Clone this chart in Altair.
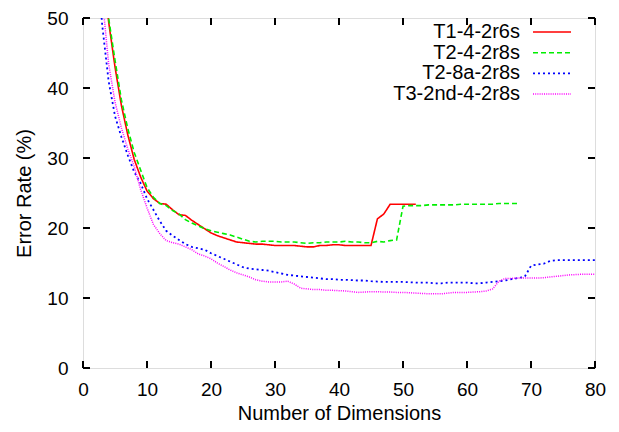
import altair as alt
import pandas as pd

# ---- data ----
x_red = list(range(3, 53))
y_red = [58, 49.5, 43.0, 37.5, 33.3, 29.8, 27.3, 25.3, 24.2, 23.5,
         23.4, 22.6, 21.9, 21.8, 21.1, 20.5, 19.9, 19.3, 18.9, 18.6,
         18.3, 18.0, 17.9, 17.8, 17.7, 17.7, 17.6, 17.5, 17.5, 17.5,
         17.5, 17.4, 17.3, 17.3, 17.5, 17.5, 17.6, 17.6, 17.5, 17.5,
         17.5, 17.5, 17.5, 21.3, 22.0, 23.4, 23.4, 23.4, 23.4, 23.4]

x_green = list(range(3, 69))
y_green = [59, 50.0, 44.0, 38.3, 34.2, 30.8, 28.3, 25.8, 24.4, 23.5,
           23.2, 22.5, 22.0, 21.2, 20.7, 20.3, 19.9, 19.6, 19.4, 19.2,
           19.0, 18.7, 18.4, 18.1, 18.0, 18.1, 18.1, 18.1, 18.0, 18.0,
           18.0, 17.9, 17.8, 17.9, 17.9, 18.0, 18.0, 18.0, 18.1, 18.0,
           18.0, 17.9, 17.9, 18.1, 18.0, 18.2, 18.3, 23.1, 23.2, 23.2,
           23.2, 23.3, 23.3, 23.3, 23.3, 23.3, 23.4, 23.4, 23.4, 23.4,
           23.4, 23.4, 23.5, 23.5, 23.5, 23.5]

x_blue = list(range(2, 81))
y_blue = [60, 49.0, 41.0, 36.0, 33.0, 30.4, 28.0, 26.4, 24.2, 22.6,
          21.0, 19.6, 18.9, 18.3, 17.7, 17.3, 17.1, 16.9, 16.4, 16.0,
          15.6, 15.2, 14.8, 14.4, 14.2, 14.1, 14.0, 13.9, 13.7, 13.5,
          13.3, 13.2, 13.1, 13.0, 12.9, 12.8, 12.7, 12.7, 12.6, 12.6,
          12.55, 12.5, 12.5, 12.4, 12.35, 12.3, 12.3, 12.3, 12.3, 12.25,
          12.2, 12.2, 12.2, 12.1, 12.1, 12.2, 12.2, 12.2, 12.2, 12.1,
          12.1, 12.2, 12.3, 12.4, 12.5, 12.7, 12.85, 13.0, 14.6, 14.8,
          14.9, 15.3, 15.4, 15.4, 15.4, 15.4, 15.4, 15.4, 15.4]

x_pink = list(range(2, 81))
y_pink = [62, 53.0, 43.5, 38.0, 34.3, 31.3, 28.8, 25.5, 22.9, 20.5,
          19.2, 18.2, 17.9, 17.7, 17.3, 16.9, 16.3, 16.0, 15.6, 15.0,
          14.5, 14.0, 13.6, 13.3, 13.0, 12.6, 12.4, 12.3, 12.3, 12.3,
          12.4, 12.0, 11.4, 11.3, 11.2, 11.2, 11.1, 11.1, 11.05, 11.0,
          10.9, 10.8, 10.85, 10.9, 10.9, 10.85, 10.85, 10.8, 10.8, 10.75,
          10.7, 10.65, 10.6, 10.6, 10.6, 10.7, 10.8, 10.8, 10.8, 10.85,
          10.9, 11.0, 11.3, 12.4, 12.8, 12.8, 12.85, 12.85, 12.85, 12.85,
          12.9, 13.0, 13.1, 13.2, 13.3, 13.35, 13.4, 13.4, 13.4]

series_names = ["T1-4-2r6s", "T2-4-2r8s", "T2-8a-2r8s", "T3-2nd-4-2r8s"]
series_x = [x_red, x_green, x_blue, x_pink]
series_y = [y_red, y_green, y_blue, y_pink]
series_colors = ["#ff0000", "#00ee00", "#0000ff", "#ff00ff"]
series_dash = [[1, 0], [5, 3], [2, 3], [1, 1.2]]
series_width = [1.6, 1.6, 1.8, 1.5]

x_ticks = [0, 10, 20, 30, 40, 50, 60, 70, 80]
y_ticks = [0, 10, 20, 30, 40, 50]

W, H = 512, 350
FONT = "Liberation Sans"
FS = 20
LFS = 19

xscale = alt.Scale(domain=[0, 80], nice=False, zero=False)
yscale = alt.Scale(domain=[0, 50], nice=False, zero=False)

xaxis = alt.Axis(values=x_ticks, format="d", title="Number of Dimensions",
                 domain=False, ticks=False, tickSize=0, grid=False,
                 labelPadding=12, labelFont=FONT, labelFontSize=LFS,
                 labelColor="black", titleFont=FONT, titleFontSize=FS,
                 titleFontWeight="normal", titleColor="black",
                 titleX=W / 2, titleY=45, titleBaseline="middle",
                 labelFlush=False, labelOverlap=False)
yaxis = alt.Axis(values=y_ticks, format="d", title="Error Rate (%)",
                 domain=False, ticks=False, tickSize=0, grid=False,
                 labelPadding=15, labelFont=FONT, labelFontSize=LFS,
                 labelColor="black", titleFont=FONT, titleFontSize=FS,
                 titleFontWeight="normal", titleColor="black",
                 titleX=-59, titleY=H / 2, titleAngle=-90,
                 titleAlign="center", titleBaseline="middle",
                 labelFlush=False, labelOverlap=False)

layers = []
for name, xs, ys, col, dash, sw in zip(series_names, series_x, series_y,
                                       series_colors, series_dash, series_width):
    df = pd.DataFrame({"x": xs, "y": ys})
    layers.append(
        alt.Chart(df).mark_line(color=col, strokeDash=dash, strokeWidth=sw,
                                clip=True)
        .encode(x=alt.X("x:Q", scale=xscale, axis=xaxis),
                y=alt.Y("y:Q", scale=yscale, axis=yaxis))
    )

# inward ticks on all four sides
xt = pd.DataFrame({"t": x_ticks})
yt = pd.DataFrame({"t": y_ticks})
tick_style = dict(color="black", strokeWidth=2)
layers.append(alt.Chart(xt).mark_rule(**tick_style).encode(
    x=alt.X("t:Q", scale=xscale, axis=xaxis), y=alt.value(H), y2=alt.value(H - 7)))
layers.append(alt.Chart(xt).mark_rule(**tick_style).encode(
    x=alt.X("t:Q", scale=xscale, axis=xaxis), y=alt.value(0), y2=alt.value(7)))
layers.append(alt.Chart(yt).mark_rule(**tick_style).encode(
    y=alt.Y("t:Q", scale=yscale, axis=yaxis), x=alt.value(0), x2=alt.value(7)))
layers.append(alt.Chart(yt).mark_rule(**tick_style).encode(
    y=alt.Y("t:Q", scale=yscale, axis=yaxis), x=alt.value(W), x2=alt.value(W - 7)))

# legend (top right, labels left of samples, gnuplot style)
for i, (name, col, dash, sw) in enumerate(zip(series_names, series_colors,
                                              series_dash, series_width)):
    ld = pd.DataFrame({"name": [name]})
    yy = 14 + i * 20.7
    layers.append(alt.Chart(ld).mark_text(align="right", baseline="middle",
                                          font=FONT, fontSize=FS, color="black")
                  .encode(x=alt.value(437), y=alt.value(yy), text="name:N"))
    layers.append(alt.Chart(ld).mark_rule(color=col, strokeDash=dash, strokeWidth=sw)
                  .encode(x=alt.value(450), x2=alt.value(488), y=alt.value(yy)))

chart = (alt.layer(*layers)
         .properties(width=W, height=H, autosize="none",
                     padding={"left": 75, "top": 10, "right": 16, "bottom": 56})
         .configure_view(stroke="black", strokeWidth=2.5)
         .configure(background="white"))

chart.save("out.html", embed_options={"renderer": "svg", "actions": False})
